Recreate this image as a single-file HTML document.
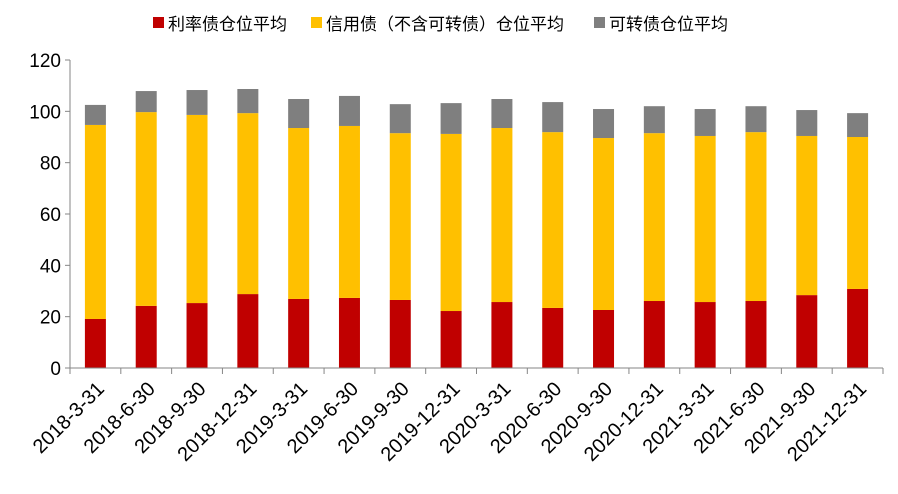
<!DOCTYPE html>
<html><head><meta charset="utf-8"><style>
body{margin:0;background:#fff;}
svg text{font-family:"Liberation Sans","Noto Sans CJK SC",sans-serif;fill:#000;}
</style></head><body>
<svg id="chart" width="898" height="489">
<g id="legend">
 <g><rect x="153" y="17" width="11" height="11" fill="#C00000"/><text x="168" y="30" font-size="17">利率债仓位平均</text></g>
 <g><rect x="311" y="17" width="11" height="11" fill="#FFC000"/><text x="326" y="30" font-size="17">信用债（不含可转债）仓位平均</text></g>
 <g><rect x="594" y="17" width="11" height="11" fill="#7F7F7F"/><text x="609" y="30" font-size="17">可转债仓位平均</text></g>
</g>
<g id="plot"></g>
</svg>
<script>
const categories=["2018-3-31","2018-6-30","2018-9-30","2018-12-31","2019-3-31","2019-6-30","2019-9-30","2019-12-31","2020-3-31","2020-6-30","2020-9-30","2020-12-31","2021-3-31","2021-6-30","2021-9-30","2021-12-31"];
const rateBonds=[19.1,24.2,25.3,28.8,26.9,27.3,26.5,22.2,25.7,23.4,22.6,26.1,25.7,26.1,28.4,30.8];
const creditBonds=[75.6,75.5,73.3,70.5,66.6,67.0,65.0,69.0,67.8,68.5,67.0,65.4,64.7,65.8,62.0,59.2];
const convertibleBonds=[7.8,8.2,9.7,9.4,11.3,11.7,11.3,12.0,11.3,11.7,11.3,10.5,10.5,10.1,10.1,9.3];
const yTicks=[0,20,40,60,80,100,120];
const X0=70,X1=883,Y0=368,Y1=60,YMAX=120;
const bw=(X1-X0)/categories.length;
const y=v=>Y0-(v/YMAX)*(Y0-Y1);
const xc=i=>X0+bw*(i+0.5);
const NS="http://www.w3.org/2000/svg";
const g=document.getElementById('plot');
function mk(t,a){const e=document.createElementNS(NS,t);for(const k in a)e.setAttribute(k,a[k]);g.appendChild(e);return e;}
const series=[[rateBonds,"#C00000","rate"],[creditBonds,"#FFC000","credit"],[convertibleBonds,"#7F7F7F","convertible"]];
categories.forEach((c,i)=>{
 let base=0;
 series.forEach(([arr,col,nm])=>{
  const v=arr[i];
  const r=mk('rect',{x:xc(i)-10.5,y:y(base+v),width:21,height:y(base)-y(base+v),fill:col});
  
  
  base+=v;
 });
 const ax=xc(i)+10,ay=Y0+22;
 const t=mk('text',{x:ax,y:ay,'font-size':20,'text-anchor':'end',transform:`rotate(-45 ${ax} ${ay})`});
 t.textContent=c;
 
 
});
const ya=mk('line',{x1:X0,y1:Y1,x2:X0,y2:Y0,stroke:'#868686'});


yTicks.forEach(v=>{
 mk('line',{x1:X0-5,y1:y(v),x2:X0,y2:y(v),stroke:'#868686'});
 const t=mk('text',{x:X0-9,y:y(v)+7,'font-size':19,'text-anchor':'end'});
 t.textContent=v;
 
 
});
const xa=mk('line',{x1:X0,y1:Y0,x2:X1,y2:Y0,stroke:'#868686'});


for(let i=0;i<=categories.length;i++)mk('line',{x1:X0+bw*i,y1:Y0,x2:X0+bw*i,y2:Y0+6,stroke:'#868686'});
</script>
</body></html>
